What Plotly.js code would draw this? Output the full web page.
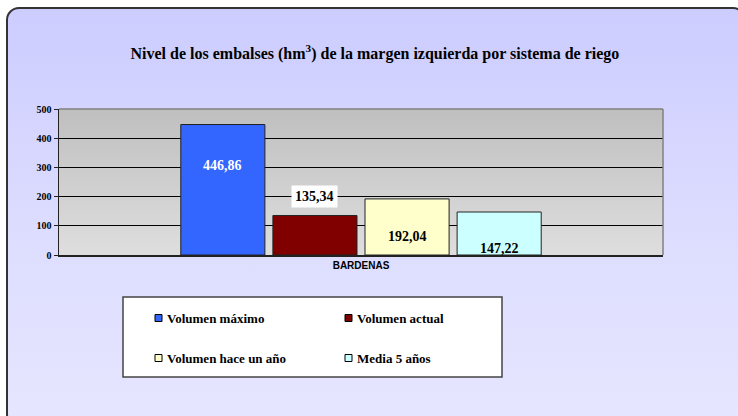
<!DOCTYPE html>
<html>
<head>
<meta charset="utf-8">
<script src="https://cdn.plot.ly/plotly-3.0.1.min.js"></script>
<style>
  html, body { margin: 0; padding: 0; background: #ffffff; }
  #wrap { position: relative; width: 738px; height: 416px; overflow: hidden; }
  #frame {
    position: absolute; left: 6px; top: 7px; width: 740px; height: 420px;
    box-sizing: border-box; border: 2px solid #333333; border-radius: 13px;
    background: linear-gradient(to bottom, #ccccff 0%, #dcdcff 50%, #e6e6ff 100%);
  }
  #chart { position: absolute; left: 0; top: 0; width: 738px; height: 416px; }
</style>
</head>
<body>
<div id="wrap">
  <div id="frame"></div>
  <div id="chart"></div>
</div>
<script>
// ---- data ----
const categories = ["BARDENAS"];
const seriesNames = ["Volumen máximo", "Volumen actual", "Volumen hace un año", "Media 5 años"];
const volumenMaximo = [446.86];
const volumenActual = [135.34];
const volumenHaceUnAno = [192.04];
const media5Anos = [147.22];
const yTickValues = [0, 100, 200, 300, 400, 500];
const yTickLabels = ["0", "100", "200", "300", "400", "500"];

// ---- styling ----
const seriesValues = [volumenMaximo, volumenActual, volumenHaceUnAno, media5Anos];
const seriesColors = ["#3366ff", "#800000", "#ffffcc", "#ccffff"];
const labelFontColors = ["#ffffff", "#000000", "#000000", "#000000"];
const labelBg = [null, "#ffffff", null, null];
const labelShift = [-41, 19, -38, -36]; // px offset of each value label from bar top
const bargap = 0.39;
const serif = "Liberation Serif, Times New Roman, serif";

const M = { l: 59, r: 75, t: 109, b: 161 };
const W = 738, H = 416;
const PW = W - M.l - M.r, PH = H - M.t - M.b;
const X = px => (px - M.l) / PW;       // pixel -> paper x
const Y = py => (H - M.b - py) / PH;   // pixel -> paper y

const fmt = v => v.toFixed(2).replace(".", ",");

const traces = seriesNames.map((name, i) => ({
  type: "bar",
  name: name,
  x: categories,
  y: seriesValues[i],
  marker: { color: seriesColors[i], line: { color: "#222222", width: 1 } },
  hoverinfo: "y+name",
  showlegend: false
}));

const slot = (1 - bargap) / seriesNames.length;
const annotations = [];
seriesNames.forEach((name, i) => {
  seriesValues[i].forEach((v, j) => {
    const a = {
      xref: "x", yref: "y",
      x: j - (1 - bargap) / 2 + (i + 0.5) * slot,
      y: v,
      yshift: labelShift[i],
      text: fmt(v),
      showarrow: false,
      xanchor: "center", yanchor: "middle",
      font: { family: serif, size: 14, weight: "bold", color: labelFontColors[i] }
    };
    if (labelBg[i]) { a.bgcolor = labelBg[i]; a.borderpad = 3; }
    annotations.push(a);
  });
});

// ---- legend box (drawn with shapes + annotations) ----
const shapes = [
  { type: "line", xref: "paper", yref: "paper", x0: 0, x1: 1, y0: 1, y1: 1, line: { color: "#808080", width: 1.5 } },
  { type: "line", xref: "paper", yref: "paper", x0: 1, x1: 1, y0: 0, y1: 1, line: { color: "#808080", width: 1.5 } },
  { type: "rect", xref: "paper", yref: "paper", x0: X(123), x1: X(502), y0: Y(297), y1: Y(377),
    fillcolor: "#ffffff", line: { color: "#444444", width: 1.5 }, layer: "above" }
];
const legCols = [155, 345], legRows = [318, 358], sym = 7;
seriesNames.forEach((name, i) => {
  const cx = legCols[i % 2], cy = legRows[Math.floor(i / 2)];
  shapes.push({
    type: "rect", xref: "paper", yref: "paper",
    x0: X(cx), x1: X(cx + sym), y0: Y(cy - sym / 2), y1: Y(cy + sym / 2),
    fillcolor: seriesColors[i], line: { color: "#000000", width: 1 }, layer: "above"
  });
  annotations.push({
    xref: "paper", yref: "paper", x: X(cx + sym + 3), y: Y(cy),
    xanchor: "left", yanchor: "middle", showarrow: false, text: name,
    font: { family: serif, size: 13, weight: "bold", color: "#000000" }
  });
});

const plotBgSvg = "data:image/svg+xml;utf8," + encodeURIComponent(
  '<svg xmlns="http://www.w3.org/2000/svg" width="100" height="100" preserveAspectRatio="none">' +
  '<defs><linearGradient id="g" x1="0" y1="0" x2="0" y2="1">' +
  '<stop offset="0" stop-color="#bfbfbf"/><stop offset="1" stop-color="#dedede"/>' +
  '</linearGradient></defs><rect width="100" height="100" fill="url(#g)"/></svg>');

const layout = {
  width: W, height: H,
  margin: { l: M.l, r: M.r, t: M.t, b: M.b, pad: 0 },
  paper_bgcolor: "rgba(0,0,0,0)",
  plot_bgcolor: "rgba(0,0,0,0)",
  title: {
    text: "Nivel de los embalses (hm<sup>3</sup>) de la margen izquierda por sistema de riego",
    font: { family: serif, size: 16, weight: "bold", color: "#000000" },
    x: 0.508, xanchor: "center", y: 0.872, yanchor: "middle"
  },
  barmode: "group",
  bargap: bargap,
  bargroupgap: 0.087,
  xaxis: {
    type: "category",
    showgrid: false,
    showline: true, linecolor: "#222222", linewidth: 1.5,
    ticks: "",
    tickfont: { family: "Liberation Sans, Arial, sans-serif", size: 10, weight: "bold", color: "#000000" },
    fixedrange: true
  },
  yaxis: {
    range: [0, 500],
    tickvals: yTickValues,
    ticktext: yTickLabels,
    showgrid: true, gridcolor: "#000000", gridwidth: 1,
    zeroline: false,
    showline: true, linecolor: "#222222", linewidth: 1.5,
    ticks: "outside", ticklen: 4, tickcolor: "#222222", tickwidth: 1,
    tickfont: { family: serif, size: 10, weight: "bold", color: "#000000" },
    fixedrange: true
  },
  images: [{
    source: plotBgSvg, xref: "paper", yref: "paper", x: 0, y: 1, sizex: 1, sizey: 1,
    sizing: "stretch", xanchor: "left", yanchor: "top", layer: "below"
  }],
  shapes: shapes,
  annotations: annotations,
  showlegend: false
};

Plotly.newPlot("chart", traces, layout, { displayModeBar: false, staticPlot: true });
</script>
</body>
</html>
